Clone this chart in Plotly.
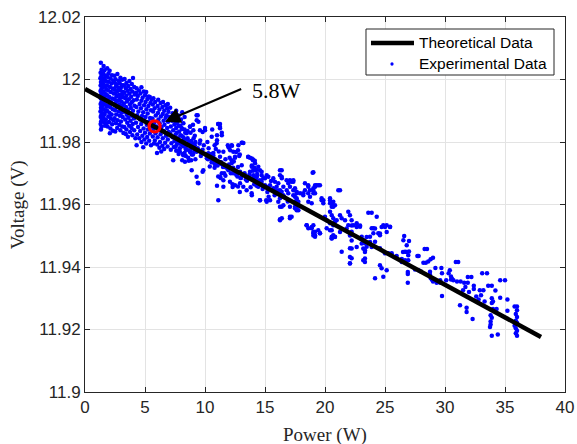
import plotly.graph_objects as go

# ---------------- data ----------------
theory_power = [0.0, 38.0]
theory_voltage = [11.9970, 11.9176]

highlight_power = [5.8]
highlight_voltage = [11.9850]
highlight_label = "5.8W"
arrow_tail = (13.14, 11.9972)
arrow_tip = (6.67, 11.9865)

x_ticks = [0, 5, 10, 15, 20, 25, 30, 35, 40]
y_ticks = [11.90, 11.92, 11.94, 11.96, 11.98, 12.00, 12.02]
y_tick_labels = ["11.9", "11.92", "11.94", "11.96", "11.98", "12", "12.02"]

legend_labels = ["Theoretical Data", "Experimental Data"]

# experimental points, (power W, voltage V), grouped by power range
exp_seg1 = [
    (1.32,12.0054),(1.38,12.0031),(1.30,12.0022),(1.42,12.0016),(1.35,12.0010),(1.28,12.0004),(1.45,11.9998),
    (1.33,11.9992),(1.40,11.9987),(1.30,11.9981),(1.47,11.9975),(1.36,11.9969),(1.29,11.9963),(1.43,11.9958),
    (1.34,11.9952),(1.41,11.9946),(1.31,11.9940),(1.46,11.9934),(1.37,11.9928),(1.30,11.9922),(1.44,11.9916),
    (1.33,11.9910),(1.39,11.9904),(1.29,11.9898),(1.45,11.9892),(1.35,11.9886),(1.31,11.9880),(1.42,11.9873),
    (1.34,11.9866),(1.30,11.9858),(1.38,11.9849),(1.33,11.9840),
    (1.55,12.0043),(1.62,12.0030),(1.52,12.0020),(1.68,12.0012),(1.58,12.0003),(1.73,11.9995),(1.53,11.9986),
    (1.64,11.9978),(1.77,11.9970),(1.56,11.9962),(1.69,11.9954),(1.60,11.9945),(1.75,11.9937),(1.51,11.9929),
    (1.66,11.9921),(1.79,11.9913),(1.57,11.9905),(1.71,11.9897),(1.62,11.9889),(1.54,11.9880),(1.74,11.9872),
    (1.59,11.9863),(1.67,11.9852),(1.78,11.9860),
    (1.85,12.0036),(2.05,12.0028),(1.95,12.0019),(2.25,12.0014),(1.88,12.0008),(2.12,12.0003),(2.35,11.9997),
    (1.98,11.9993),(2.20,11.9987),(1.83,11.9982),(2.08,11.9976),(2.30,11.9971),(1.92,11.9965),(2.15,11.9960),
    (2.38,11.9955),(1.86,11.9950),(2.02,11.9944),(2.27,11.9939),(1.97,11.9933),(2.18,11.9927),(2.40,11.9922),
    (1.90,11.9917),(2.10,11.9911),(2.32,11.9905),(1.84,11.9900),(2.03,11.9894),(2.22,11.9888),(1.94,11.9882),
    (2.14,11.9876),(2.36,11.9870),(2.00,11.9864),(2.26,11.9857),(1.88,11.9850),(2.12,11.9843),(2.33,11.9836),
    (2.07,11.9828),
]
exp_seg2 = [
    (2.45,12.0012),(2.70,12.0018),(2.95,12.0006),(2.55,12.0001),(2.82,11.9996),(3.10,11.9999),(2.48,11.9990),
    (2.66,11.9985),(2.90,11.9988),(3.15,11.9982),(2.58,11.9978),(2.78,11.9973),(3.02,11.9976),(2.44,11.9968),
    (2.70,11.9963),(2.96,11.9966),(3.18,11.9960),(2.52,11.9956),(2.84,11.9951),(3.08,11.9954),(2.62,11.9946),
    (2.92,11.9941),(3.16,11.9944),(2.47,11.9937),(2.75,11.9932),(3.04,11.9930),(2.56,11.9925),(2.87,11.9920),
    (3.12,11.9917),(2.66,11.9912),(2.98,11.9907),(2.50,11.9902),(2.80,11.9898),(3.06,11.9894),(2.60,11.9888),
    (2.90,11.9884),(3.14,11.9880),(2.46,11.9876),(2.72,11.9870),(3.00,11.9866),(2.58,11.9860),(2.86,11.9855),
    (3.10,11.9850),(2.68,11.9845),(2.95,11.9838),(2.52,11.9834),(3.20,11.9829),
    (3.30,12.0002),(3.70,11.9995),(4.00,12.0005),(3.45,11.9989),(3.90,11.9986),(3.25,11.9981),(3.60,11.9979),
    (4.10,11.9976),(3.40,11.9972),(3.80,11.9970),(3.55,11.9964),(3.95,11.9962),(3.28,11.9958),(3.70,11.9955),
    (4.15,11.9952),(3.45,11.9948),(3.85,11.9945),(3.35,11.9940),(3.65,11.9937),(4.05,11.9934),(3.50,11.9930),
    (3.90,11.9927),(3.25,11.9923),(3.75,11.9920),(4.12,11.9916),(3.42,11.9912),(3.82,11.9909),(3.58,11.9903),
    (4.00,11.9900),(3.30,11.9897),(3.72,11.9893),(3.48,11.9887),(3.92,11.9884),(3.62,11.9878),(4.08,11.9875),
    (3.35,11.9872),(3.80,11.9868),(3.52,11.9862),(3.98,11.9858),(3.68,11.9852),(3.28,11.9848),(3.88,11.9845),
    (3.45,11.9840),(4.10,11.9838),(3.75,11.9832),(3.40,11.9826),(3.95,11.9822),(3.58,11.9817),(4.20,11.9812),
    (4.30,11.9972),(4.70,11.9975),(5.10,11.9960),(4.50,11.9965),(4.90,11.9962),(5.40,11.9944),(4.25,11.9958),
    (4.62,11.9955),(5.00,11.9950),(5.30,11.9946),(4.40,11.9947),(4.80,11.9942),(5.20,11.9938),(5.55,11.9935),
    (4.32,11.9936),(4.70,11.9932),(5.05,11.9928),(5.45,11.9925),(4.55,11.9922),(4.92,11.9918),(5.28,11.9915),
    (4.28,11.9912),(4.66,11.9908),(5.12,11.9905),(5.50,11.9902),(4.45,11.9898),(4.85,11.9895),(5.22,11.9891),
    (4.35,11.9886),(4.75,11.9883),(5.05,11.9880),(5.42,11.9877),(4.58,11.9872),(4.95,11.9868),(5.32,11.9865),
    (4.25,11.9862),(4.68,11.9858),(5.15,11.9855),(5.52,11.9850),(4.42,11.9848),(4.88,11.9843),(5.25,11.9840),
    (4.60,11.9835),(5.00,11.9830),(5.40,11.9827),(4.35,11.9824),(4.78,11.9820),(5.18,11.9816),(4.52,11.9812),
    (4.95,11.9808),(5.35,11.9804),(4.30,11.9790),(4.70,11.9800),(5.10,11.9795),(5.50,11.9790),(4.85,11.9783),
]
exp_seg3 = [
    (5.70,11.9940),(6.10,11.9935),(6.50,11.9928),(6.90,11.9922),(5.85,11.9928),(6.30,11.9925),(6.70,11.9918),
    (5.65,11.9920),(6.05,11.9915),(6.45,11.9912),(6.85,11.9908),(5.80,11.9908),(6.20,11.9904),(6.60,11.9900),
    (6.95,11.9897),(5.68,11.9898),(6.08,11.9893),(6.48,11.9890),(6.80,11.9886),(5.90,11.9885),(6.32,11.9882),
    (6.72,11.9878),(5.62,11.9875),(6.12,11.9872),(6.55,11.9868),(6.92,11.9865),(5.78,11.9862),(6.22,11.9860),
    (6.62,11.9855),(5.95,11.9850),(6.38,11.9848),(6.85,11.9845),(5.70,11.9842),(6.15,11.9838),(6.58,11.9835),
    (6.98,11.9832),(5.88,11.9828),(6.30,11.9825),(6.75,11.9820),(5.65,11.9818),(6.05,11.9815),(6.48,11.9812),
    (6.90,11.9808),(5.82,11.9805),(6.25,11.9800),(6.68,11.9798),(6.02,11.9792),(6.45,11.9788),(6.88,11.9786),
    (5.75,11.9795),(6.20,11.9782),(6.60,11.9778),(6.35,11.9770),(6.00,11.9765),
    (7.10,11.9910),(7.60,11.9900),(8.10,11.9895),(7.30,11.9892),(7.80,11.9885),(8.30,11.9880),(7.05,11.9880),
    (7.50,11.9876),(8.00,11.9872),(7.25,11.9868),(7.70,11.9864),(8.20,11.9860),(7.45,11.9856),(7.95,11.9852),
    (7.15,11.9850),(7.60,11.9845),(8.10,11.9842),(7.35,11.9838),(7.85,11.9834),(8.35,11.9830),(7.10,11.9828),
    (7.55,11.9824),(8.05,11.9820),(7.30,11.9815),(7.75,11.9812),(8.25,11.9808),(7.45,11.9803),(7.95,11.9800),
    (7.20,11.9796),(7.65,11.9792),(8.15,11.9788),(7.40,11.9784),(7.90,11.9780),(8.40,11.9776),(7.60,11.9772),
    (7.35,11.9742),(8.10,11.9742),(7.80,11.9762),(7.15,11.9775),
    (7.55,11.9860),(7.80,11.9852),(8.05,11.9845),(8.30,11.9840),(8.55,11.9835),(8.80,11.9830),(9.05,11.9812),
    (7.65,11.9830),(7.95,11.9822),(8.20,11.9815),(8.45,11.9808),(8.70,11.9802),(8.95,11.9795),(9.15,11.9790),
    (7.75,11.9800),(8.00,11.9793),(8.25,11.9786),(8.50,11.9775),(8.75,11.9768),(9.00,11.9760),(7.90,11.9770),
    (8.15,11.9762),(8.40,11.9755),(8.60,11.9750),(7.55,11.9785),(8.85,11.9742),(9.20,11.9745),
]
exp_seg4 = [
    (9.30,11.9886),(9.45,11.9865),(11.25,11.9858),(11.25,11.9844),(11.40,11.9822),(10.56,11.9817),(8.75,11.9849),
    (9.03,11.9838),(9.58,11.9838),(10.00,11.9838),(13.06,11.9798),(12.78,11.9790),(12.22,11.9790),(11.94,11.9785),
    (8.47,11.9828),(8.60,11.9796),(8.75,11.9774),(8.19,11.9758),(9.30,11.9769),(9.72,11.9764),(10.28,11.9764),
    (10.97,11.9796),(11.53,11.9769),(11.25,11.9753),(12.36,11.9769),(12.50,11.9753),(12.22,11.9742),(13.60,11.9753),
    (13.90,11.9747),(14.00,11.9742),(14.17,11.9732),(13.90,11.9721),(13.75,11.9705),(14.03,11.9694),(14.30,11.9689),
    (14.58,11.9678),(14.72,11.9705),(15.00,11.9684),(14.72,11.9673),(15.42,11.9662),(15.69,11.9652),(16.25,11.9710),
    (16.40,11.9684),(16.53,11.9657),(16.80,11.9678),(17.36,11.9646),(17.64,11.9614),(17.50,11.9593),(17.08,11.9593),
    (16.25,11.9593),(16.40,11.9556),(17.08,11.9561),(9.86,11.9710),(9.30,11.9689),(9.45,11.9668),(8.89,11.9710),
    (8.33,11.9737),(11.25,11.9689),(11.53,11.9678),(12.08,11.9673),(11.53,11.9657),(12.50,11.9662),(12.92,11.9668),
    (13.19,11.9657),(13.47,11.9646),(13.89,11.9636),(14.58,11.9614),(11.11,11.9614),(12.22,11.9732),(13.06,11.9726),
    (12.92,11.9705),(13.19,11.9694),(13.10,11.9798),(13.60,11.9752),(12.30,11.9656),(12.90,11.9640),(15.10,11.9614),
    (16.25,11.9550),(14.30,11.9678),(11.10,11.9858),
    (8.55,11.9812),(8.70,11.9790),(8.85,11.9803),(9.00,11.9785),(9.10,11.9770),(9.20,11.9800),(9.40,11.9780),
    (9.55,11.9795),(9.65,11.9755),(9.80,11.9775),(9.90,11.9790),(10.05,11.9760),(10.15,11.9748),(10.30,11.9780),
    (10.45,11.9752),(10.60,11.9740),(10.70,11.9765),(10.85,11.9745),(11.00,11.9730),(11.15,11.9770),(11.35,11.9735),
    (11.50,11.9720),(11.70,11.9745),(11.85,11.9715),(12.00,11.9728),(12.15,11.9700),(12.35,11.9718),(12.60,11.9695),
    (12.75,11.9720),(13.00,11.9685),(13.30,11.9700),(13.50,11.9676),(13.70,11.9690),(14.10,11.9665),(14.40,11.9660),
    (14.80,11.9650),(15.20,11.9640),(15.50,11.9675),(15.80,11.9630),(16.10,11.9645),(16.60,11.9625),(16.90,11.9610),
    (8.90,11.9760),(9.60,11.9805),(10.20,11.9800),(10.80,11.9718),(11.60,11.9700),(8.65,11.9740),(10.40,11.9722),
    (12.05,11.9750),(12.85,11.9755),(14.25,11.9710),(15.30,11.9625),(13.80,11.9655),(9.15,11.9820),(10.90,11.9778),
    (8.40,11.9785),(8.30,11.9765),
    (9.39,11.9886),(9.31,11.9870),(9.00,11.9855),(8.75,11.9850),(10.00,11.9845),(9.80,11.9832),(11.10,11.9858),
    (11.25,11.9848),(10.60,11.9840),(11.40,11.9830),(11.00,11.9822),(11.00,11.9806),(10.80,11.9790),(11.90,11.9790),
    (12.00,11.9782),(12.25,11.9788),(12.10,11.9774),(13.20,11.9797),(12.75,11.9774),(12.60,11.9768),(12.50,11.9750),
    (12.40,11.9738),(12.90,11.9760),(13.75,11.9750),(14.00,11.9744),(14.15,11.9740),(13.90,11.9725),(14.10,11.9718),
    (14.25,11.9712),(14.00,11.9708),(14.35,11.9698),(14.10,11.9688),(14.20,11.9678),(14.30,11.9660),
    (10.25,11.9762),(10.55,11.9762),(10.70,11.9756),(10.25,11.9745),(10.55,11.9735),(10.80,11.9730),(11.05,11.9725),
    (11.35,11.9730),(11.65,11.9720),(11.95,11.9710),(12.35,11.9700),(12.70,11.9690),(12.95,11.9685),(13.40,11.9680),
    (13.70,11.9695),(9.80,11.9705),(9.40,11.9670),(11.10,11.9690),(11.30,11.9685),(11.70,11.9692),(11.40,11.9700),
    (11.00,11.9660),(12.30,11.9665),(12.75,11.9658),(13.90,11.9630),
    (14.44,11.9721),(14.58,11.9710),(14.72,11.9694),(14.31,11.9689),(14.86,11.9684),(15.14,11.9694),(15.28,11.9689),
    (14.58,11.9673),(14.44,11.9657),(14.72,11.9662),(15.00,11.9662),(15.28,11.9657),(14.58,11.9614),(15.14,11.9609),
    (15.42,11.9614),(15.69,11.9684),(15.83,11.9673),(16.25,11.9694),(16.39,11.9689),(16.11,11.9668),(15.97,11.9657),
    (15.83,11.9646),(16.25,11.9646),(16.39,11.9641),(16.53,11.9630),(16.25,11.9620),(16.11,11.9609),(16.39,11.9593),
    (16.53,11.9598),(16.39,11.9710),(16.94,11.9668),(17.08,11.9657),(16.81,11.9646),(16.94,11.9636),(16.25,11.9553),
    (17.08,11.9556),
]
exp_seg5 = [
    (18.97,11.9702),(17.08,11.9678),(17.36,11.9673),(18.33,11.9668),(18.60,11.9662),(19.17,11.9657),(19.30,11.9662),
    (19.58,11.9662),(17.50,11.9652),(17.64,11.9641),(17.92,11.9636),(18.19,11.9630),(18.60,11.9636),(19.03,11.9646),
    (17.50,11.9625),(17.50,11.9609),(17.64,11.9593),(17.64,11.9582),(17.22,11.9561),(18.47,11.9534),(19.03,11.9534),
    (19.17,11.9513),(19.17,11.9502),(19.58,11.9508),(19.72,11.9614),(19.86,11.9604),(20.42,11.9620),(20.56,11.9604),
    (20.69,11.9593),(21.25,11.9646),(20.00,11.9561),(20.14,11.9550),(20.42,11.9540),(20.69,11.9534),(20.56,11.9518),
    (20.56,11.9497),(21.25,11.9566),(21.39,11.9556),(21.67,11.9550),(21.94,11.9577),(22.08,11.9566),(22.22,11.9550),
    (22.36,11.9534),(21.94,11.9534),(22.22,11.9513),(22.64,11.9540),(22.92,11.9529),(21.39,11.9449),(22.08,11.9460),
    (22.22,11.9428),(22.08,11.9412),(23.06,11.9497),(23.19,11.9486),(23.33,11.9476),(23.47,11.9465),(23.75,11.9497),
    (24.03,11.9508),(23.89,11.9524),(23.61,11.9574),(23.89,11.9574),(24.31,11.9561),(24.86,11.9534),(25.14,11.9534),
    (25.42,11.9529),(24.03,11.9524),(24.44,11.9508),(24.58,11.9502),(24.17,11.9481),(24.58,11.9460),(25.00,11.9444),
    (25.28,11.9444),(23.33,11.9454),(23.19,11.9422),(24.58,11.9406),(24.72,11.9396),(24.86,11.9369),(25.14,11.9390),
    (24.17,11.9364),(25.56,11.9444),(25.97,11.9435),(26.53,11.9486),(26.81,11.9470),(26.67,11.9449),(26.94,11.9438),
    (26.67,11.9422),(26.94,11.9422),
    (18.89,11.9528),(19.03,11.9512),(19.03,11.9501),(20.56,11.9491),(20.83,11.9496),(21.25,11.9512),(21.80,11.9523),
    (22.22,11.9533),(22.08,11.9501),(22.22,11.9485),(22.64,11.9528),(22.92,11.9533),(23.06,11.9475),(23.19,11.9459),
    (23.33,11.9448),(23.33,11.9427),(23.33,11.9416),(23.47,11.9496),(23.75,11.9480),(23.89,11.9464),(24.17,11.9523),
    (24.58,11.9507),(24.72,11.9528),(25.00,11.9528),(25.14,11.9512),(25.42,11.9528),(22.08,11.9411),(22.08,11.9432),
    (22.22,11.9459),(22.64,11.9464),
    (17.36,11.9630),(17.64,11.9636),(17.22,11.9673),(17.36,11.9678),(17.64,11.9620),(17.78,11.9609),(17.64,11.9598),
    (17.50,11.9588),(17.78,11.9582),(18.61,11.9657),(18.75,11.9646),(19.03,11.9652),(19.17,11.9662),(19.44,11.9662),
    (19.03,11.9636),(19.17,11.9636),(18.75,11.9625),(18.61,11.9609),(18.89,11.9604),(18.33,11.9646),(18.19,11.9636),
    (19.03,11.9703),(19.86,11.9614),(19.72,11.9620),(20.42,11.9614),(20.42,11.9604),(20.69,11.9609),(20.83,11.9598),
    (20.56,11.9593),(20.42,11.9577),(20.56,11.9566),(20.69,11.9556),(20.83,11.9545),(20.97,11.9550),(18.47,11.9534),
    (18.61,11.9524),(18.89,11.9524),(19.03,11.9508),(19.17,11.9497),(19.44,11.9518),(19.58,11.9508),(20.14,11.9524),
    (20.42,11.9518),(20.69,11.9502),(20.83,11.9497),(20.56,11.9492),(21.11,11.9646),
]
exp_seg6 = [
    (26.60,11.9499),(27.00,11.9483),(26.50,11.9448),(26.80,11.9448),(27.00,11.9450),(28.30,11.9458),(28.50,11.9458),
    (27.70,11.9435),(27.80,11.9435),(26.40,11.9426),(26.40,11.9416),(29.00,11.9430),(28.80,11.9425),(28.60,11.9418),
    (28.40,11.9414),(28.20,11.9414),(26.90,11.9384),(26.90,11.9378),(27.50,11.9392),(27.80,11.9390),(28.00,11.9386),
    (26.90,11.9350),(29.20,11.9397),(29.70,11.9397),(29.75,11.9380),(30.30,11.9380),(28.75,11.9385),(28.75,11.9375),
    (28.80,11.9365),(28.90,11.9360),(29.00,11.9354),(29.30,11.9350),(29.60,11.9358),(29.60,11.9350),(30.90,11.9416),
    (31.10,11.9416),(30.50,11.9360),(30.10,11.9358),(30.70,11.9358),(31.00,11.9354),(31.30,11.9354),(31.60,11.9350),
    (31.90,11.9350),(31.90,11.9368),(32.20,11.9368),(29.75,11.9307),(31.25,11.9278),(31.80,11.9270),(31.80,11.9256),
    (32.30,11.9234),(31.50,11.9326),(31.70,11.9336),(32.40,11.9340),(32.40,11.9330),(32.90,11.9326),(33.20,11.9326),
    (33.10,11.9380),(33.50,11.9380),(33.60,11.9340),(33.90,11.9340),(34.20,11.9325),(34.60,11.9358),(35.00,11.9358),
    (33.90,11.9300),(34.00,11.9290),(33.90,11.9285),(34.60,11.9302),(35.20,11.9296),(35.20,11.9260),(35.80,11.9274),
    (36.00,11.9274),(36.00,11.9262),(35.90,11.9250),(36.00,11.9240),(35.90,11.9228),(36.00,11.9222),(35.80,11.9212),
    (35.90,11.9204),(36.00,11.9196),(35.90,11.9188),(36.00,11.9180),(33.80,11.9246),(33.90,11.9238),(33.80,11.9226),
    (33.80,11.9216),(33.75,11.9208),(33.90,11.9180),(34.40,11.9184),(34.30,11.9266),(34.00,11.9266),(30.40,11.9390),
    (30.50,11.9370),(30.60,11.9362),(32.60,11.9306),(32.00,11.9320),(32.80,11.9296),(33.30,11.9290),(33.00,11.9310),
]

experimental = exp_seg1 + exp_seg2 + exp_seg3 + exp_seg4 + exp_seg5 + exp_seg6
exp_power = [p for p, v in experimental]
exp_voltage = [v for p, v in experimental]

# ---------------- figure ----------------
INK = "#262626"
BLUE = "#0000ff"
SANS = "Liberation Sans, Arial, Helvetica, sans-serif"
SERIF = "Liberation Serif, Times New Roman, serif"

fig = go.Figure()

fig.add_trace(go.Scatter(
    x=exp_power, y=exp_voltage, mode="markers", name=legend_labels[1],
    marker=dict(color=BLUE, size=4.5, line=dict(width=0)),
))
fig.add_trace(go.Scatter(
    x=theory_power, y=theory_voltage, mode="lines", name=legend_labels[0],
    line=dict(color="black", width=4.5),
))
fig.add_trace(go.Scatter(
    x=highlight_power, y=highlight_voltage, mode="markers", name="highlight",
    marker=dict(symbol="circle-open", color="#ff0000", size=11, line=dict(width=3.2, color="#ff0000")),
))

fig.add_annotation(
    x=arrow_tip[0], y=arrow_tip[1], ax=arrow_tail[0], ay=arrow_tail[1],
    xref="x", yref="y", axref="x", ayref="y",
    text="", showarrow=True, arrowhead=2, arrowsize=1.4, arrowwidth=2.2, arrowcolor="black",
)
fig.add_annotation(
    x=13.75, y=11.9966, xref="x", yref="y", text=highlight_label, showarrow=False,
    xanchor="left", yanchor="middle", font=dict(family=SERIF, size=22, color="black"),
)

# axis titles
fig.add_annotation(
    x=0.5, y=-0.115, xref="paper", yref="paper", text="Power (W)", showarrow=False,
    xanchor="center", yanchor="middle", font=dict(family=SERIF, size=19, color=INK),
)
fig.add_annotation(
    x=-0.14, y=0.5, xref="paper", yref="paper", text="Voltage (V)", showarrow=False,
    textangle=-90, xanchor="center", yanchor="middle", font=dict(family=SERIF, size=19, color=INK),
)

# MATLAB-style legend box (drawn in paper coordinates)
LX0, LX1, LY0, LY1 = 0.5854, 0.9771, 0.8453, 0.968
fig.add_shape(type="rect", xref="paper", yref="paper", x0=LX0, x1=LX1, y0=LY0, y1=LY1,
              fillcolor="white", line=dict(color=INK, width=1), layer="above")
row_y = [0.9307, 0.8747]
fig.add_shape(type="line", xref="paper", yref="paper", x0=0.5958, x1=0.6854, y0=row_y[0], y1=row_y[0],
              line=dict(color="black", width=4.5), layer="above")
fig.add_shape(type="circle", xref="paper", yref="paper", x0=0.6396 - 0.0034, x1=0.6396 + 0.0034,
              y0=row_y[1] - 0.0044, y1=row_y[1] + 0.0044,
              fillcolor=BLUE, line=dict(color=BLUE, width=0), layer="above")
for label, ry in zip(legend_labels, row_y):
    fig.add_annotation(x=0.6917, y=ry, xref="paper", yref="paper", text=label, showarrow=False,
                       xanchor="left", yanchor="middle", font=dict(family=SANS, size=15.5, color="black"))

axis_common = dict(
    showline=True, linecolor=INK, linewidth=1, mirror="ticks",
    ticks="inside", ticklen=5, tickwidth=1, tickcolor=INK,
    showgrid=True, gridcolor="#e3e3e3", gridwidth=1, zeroline=False,
    tickfont=dict(family=SANS, size=17, color=INK),
    automargin=False,
)
fig.update_xaxes(range=[0, 40], tickvals=x_ticks, ticktext=[str(t) for t in x_ticks], **axis_common)
fig.update_yaxes(range=[11.9, 12.02], tickvals=y_ticks, ticktext=y_tick_labels, **axis_common)

fig.update_layout(
    width=577, height=444,
    margin=dict(l=85, r=12, t=17, b=52, autoexpand=False),
    plot_bgcolor="white", paper_bgcolor="white",
    showlegend=False,
)

fig.write_html("out.html", config={"displayModeBar": False},
               post_script="document.body.style.margin='0px';")
